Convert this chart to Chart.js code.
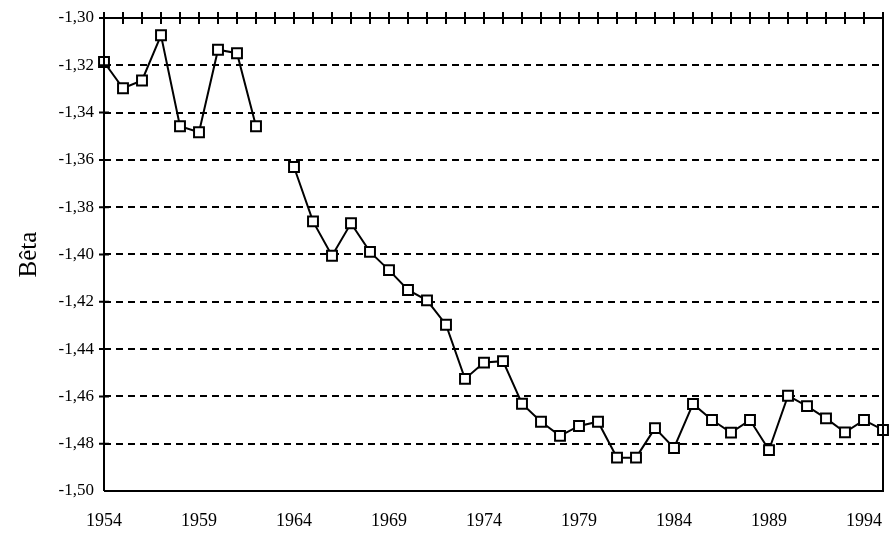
<!DOCTYPE html>
<html>
<head>
<meta charset="utf-8">
<script src="https://cdn.jsdelivr.net/npm/chart.js@4"></script>
<style>
  html, body { margin: 0; padding: 0; background: #fff; }
  #wrap { width: 889px; height: 534px; position: relative; }
</style>
</head>
<body>
<div id="wrap"><canvas id="beta-chart"></canvas></div>
<script>
const years = [1954, 1955, 1956, 1957, 1958, 1959, 1960, 1961, 1962, 1963,
  1964, 1965, 1966, 1967, 1968, 1969, 1970, 1971, 1972, 1973,
  1974, 1975, 1976, 1977, 1978, 1979, 1980, 1981, 1982, 1983,
  1984, 1985, 1986, 1987, 1988, 1989, 1990, 1991, 1992, 1993,
  1994, 1995];
const betaValues = [-1.3186, -1.3297, -1.3264, -1.3073, -1.3458, -1.3483, -1.3134, -1.3149, -1.3458, null,
  -1.3630, -1.3860, -1.4005, -1.3868, -1.3989, -1.4066, -1.4150, -1.4194, -1.4297, -1.4526,
  -1.4457, -1.4451, -1.4631, -1.4707, -1.4767, -1.4725, -1.4707, -1.4859, -1.4859, -1.4734,
  -1.4818, -1.4632, -1.4700, -1.4753, -1.4700, -1.4827, -1.4597, -1.4641, -1.4693, -1.4752,
  -1.4700, -1.4742];
const xTickLabels = [1954, 1959, 1964, 1969, 1974, 1979, 1984, 1989, 1994];
const yMin = -1.5;
const yMax = -1.3;
const yStep = 0.02;

const FONT = "'Liberation Serif', 'DejaVu Serif', serif";
const formatBeta = (v) => v.toFixed(2).replace(".", ",");
const isEdge = (v) => Math.abs(v - yMin) < 1e-6 || Math.abs(v - yMax) < 1e-6;

// axis frame with ticks crossing the lines (top and left), right border
const framePlugin = {
  id: "frame",
  afterDatasetsDraw(chart) {
    const { ctx, chartArea: a, scales } = chart;
    ctx.save();
    ctx.strokeStyle = "#000";
    ctx.lineWidth = 2;
    ctx.beginPath();
    ctx.moveTo(a.left, a.bottom);
    ctx.lineTo(a.left, a.top);
    ctx.lineTo(a.right, a.top);
    ctx.lineTo(a.right, a.bottom);
    ctx.lineTo(a.left, a.bottom);
    ctx.stroke();

    ctx.beginPath();
    years.forEach((yr) => {
      const px = scales.x.getPixelForValue(yr);
      ctx.moveTo(px, a.top - 6);
      ctx.lineTo(px, a.top + 6);
    });
    scales.y.ticks.forEach((t) => {
      if (Math.abs(t.value - yMin) < 1e-6) return;
      const py = scales.y.getPixelForValue(t.value);
      ctx.moveTo(a.left - 5, py);
      ctx.lineTo(a.left + 5, py);
    });
    ctx.stroke();
    ctx.restore();
  },
};

new Chart(document.getElementById("beta-chart"), {
  type: "line",
  data: {
    datasets: [
      {
        data: years.map((yr, i) => ({ x: yr, y: betaValues[i] })),
        borderColor: "#000",
        borderWidth: 2,
        tension: 0,
        spanGaps: false,
        pointStyle: "rect",
        pointRadius: 7,
        pointBorderWidth: 2,
        pointBackgroundColor: "#fff",
        pointBorderColor: "#000",
        clip: false,
      },
    ],
  },
  options: {
    responsive: true,
    maintainAspectRatio: false,
    animation: false,
    layout: { autoPadding: false, padding: { top: 18, right: 6, left: 0, bottom: 0 } },
    plugins: {
      legend: { display: false },
      tooltip: { enabled: false },
    },
    scales: {
      x: {
        type: "linear",
        min: 1954,
        max: 1995,
        afterBuildTicks: (scale) => {
          scale.ticks = xTickLabels.map((v) => ({ value: v }));
        },
        afterFit: (scale) => {
          scale.height = 43;
          scale.paddingLeft = 0;
          scale.paddingRight = 0;
        },
        grid: { display: false, drawTicks: false },
        border: { display: false },
        ticks: {
          color: "#000",
          padding: 19,
          maxRotation: 0,
          autoSkip: false,
          font: { family: FONT, size: 18 },
          callback: (v) => String(v),
        },
      },
      y: {
        min: yMin,
        max: yMax,
        afterFit: (scale) => {
          scale.width = 104;
          scale.paddingTop = 0;
          scale.paddingBottom = 0;
        },
        grid: {
          drawTicks: false,
          color: (c) => (c.tick && isEdge(c.tick.value) ? "rgba(0,0,0,0)" : "#000"),
          lineWidth: 2,
        },
        border: { display: false, dash: [7, 5] },
        ticks: {
          stepSize: yStep,
          color: "#000",
          padding: 10,
          font: { family: FONT, size: 17 },
          callback: (v) => formatBeta(v),
        },
        title: {
          display: true,
          text: "Bêta",
          color: "#000",
          padding: { top: 14, bottom: 0 },
          font: { family: FONT, size: 25 },
        },
      },
    },
  },
  plugins: [framePlugin],
});
</script>
</body>
</html>
